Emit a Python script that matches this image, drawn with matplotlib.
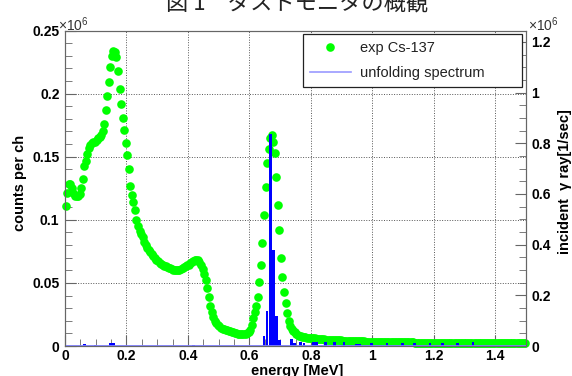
import numpy as np
import matplotlib
matplotlib.use('Agg')
import matplotlib.pyplot as plt
from matplotlib.lines import Line2D

plt.rcParams['font.family'] = ['Liberation Sans', 'DejaVu Sans']
plt.rcParams['mathtext.fontset'] = 'custom'
plt.rcParams['mathtext.rm'] = 'Liberation Sans'
plt.rcParams['mathtext.it'] = 'Liberation Sans:italic'

# exp Cs-137, counts per ch (x10^6), 5 keV channels starting at 2.5 keV
counts = [
    0.111, 0.121, 0.1285, 0.128, 0.1255, 0.121, 0.119, 0.1185, 0.119, 0.1205,
    0.125, 0.132, 0.1425, 0.1465, 0.1525, 0.157, 0.1595, 0.1605, 0.1615, 0.162,
    0.163, 0.1645, 0.1655, 0.1675, 0.170, 0.176, 0.187, 0.198, 0.209, 0.221,
    0.230, 0.234, 0.233, 0.229, 0.218, 0.204, 0.192, 0.181, 0.171, 0.161,
    0.151, 0.140, 0.127, 0.120, 0.114, 0.108, 0.100, 0.095, 0.091, 0.0885,
    0.086, 0.0825, 0.080, 0.078, 0.076, 0.0745, 0.073, 0.071, 0.0695, 0.068,
    0.067, 0.066, 0.065, 0.064, 0.0635, 0.063, 0.0625, 0.062, 0.0615, 0.061,
    0.0605, 0.060, 0.060, 0.060, 0.0605, 0.061, 0.062, 0.0625, 0.063, 0.064,
    0.0645, 0.0655, 0.0665, 0.0675, 0.068, 0.0685, 0.068, 0.0665, 0.064, 0.061,
    0.057, 0.052, 0.046, 0.039, 0.032, 0.027, 0.023, 0.020, 0.018, 0.0165,
    0.0155, 0.0145, 0.0138, 0.0132, 0.0128, 0.0124, 0.012, 0.0116, 0.0112, 0.0108,
    0.0104, 0.0101, 0.0099, 0.0098, 0.0097, 0.0097, 0.0098, 0.0099, 0.0101, 0.0108,
    0.013, 0.017, 0.022, 0.027, 0.032, 0.039, 0.051, 0.064, 0.082, 0.104,
    0.126, 0.145, 0.156, 0.1645, 0.1672, 0.162, 0.153, 0.134, 0.112, 0.092,
    0.070, 0.055, 0.043, 0.034, 0.026, 0.020, 0.016, 0.0135, 0.0122, 0.011,
    0.0098, 0.0088, 0.0082, 0.0078, 0.0074, 0.0071, 0.0068, 0.0066, 0.0064, 0.0063,
    0.0062, 0.0061, 0.0060, 0.0058, 0.0057, 0.0056, 0.0055, 0.0053, 0.0052, 0.0051,
    0.0050, 0.0049, 0.0048, 0.0047, 0.0047, 0.0046, 0.0045, 0.0045, 0.0044, 0.0044,
    0.0043, 0.0043, 0.0042, 0.0041, 0.0041, 0.0040, 0.0040, 0.0039, 0.0039, 0.0038,
    0.0037, 0.0037, 0.0036,
    0.0036, 0.0036, 0.0035, 0.0035, 0.0035, 0.0034, 0.0034, 0.0034, 0.0033, 0.0033,
    0.0033, 0.0033, 0.0032, 0.0032, 0.0032, 0.0032, 0.0031, 0.0031, 0.0031, 0.0031,
    0.0030, 0.0030, 0.0030, 0.0030, 0.0029, 0.0029, 0.0029, 0.0029, 0.0029, 0.0028,
    0.0028, 0.0028, 0.0028, 0.0028, 0.0027, 0.0027, 0.0027, 0.0027, 0.0027, 0.0026,
    0.0026, 0.0026, 0.0026, 0.0026, 0.0026, 0.0025, 0.0025, 0.0025, 0.0025, 0.0025,
    0.0025, 0.0024, 0.0024, 0.0024, 0.0024, 0.0024, 0.0024, 0.0024, 0.0023, 0.0023,
    0.0023, 0.0023, 0.0023, 0.0023, 0.0023, 0.0023, 0.0022, 0.0022, 0.0022, 0.0022,
    0.0022, 0.0022, 0.0022, 0.0022, 0.0022, 0.0022, 0.0021, 0.0021, 0.0021, 0.0021,
    0.0021, 0.0021, 0.0021, 0.0021, 0.0021, 0.0021, 0.0021, 0.0021, 0.0021, 0.0021,
    0.0021, 0.0021, 0.0021, 0.0020, 0.0020, 0.0020, 0.0020, 0.0020, 0.0020, 0.0020,
    0.0020, 0.0020, 0.0020, 0.0020, 0.0020, 0.0020, 0.0020,
]
energy = 0.0025 + 0.005 * np.arange(len(counts))

# unfolding spectrum, incident gamma ray [1/sec] (x10^6), bin lower edges [MeV]
unf_lo = [0.058, 0.093, 0.143, 0.153, 0.413,
          0.643, 0.653, 0.663, 0.673, 0.683, 0.693,
          0.733, 0.743, 0.763, 0.773, 0.803, 0.813, 0.843, 0.873, 0.903,
          0.943, 0.953, 0.993, 1.043, 1.093, 1.133, 1.183, 1.223, 1.273, 1.323]
unf_val = [0.006, 0.005, 0.011, 0.011, 0.005,
           0.040, 0.140, 0.835, 0.380, 0.120, 0.022,
           0.028, 0.012, 0.015, 0.010, 0.015, 0.015, 0.016, 0.016, 0.014,
           0.008, 0.008, 0.010, 0.010, 0.010, 0.010, 0.010, 0.010, 0.012, 0.015]

x_ticks = [0, 0.2, 0.4, 0.6, 0.8, 1.0, 1.2, 1.4]
x_labels = ["0", "0.2", "0.4", "0.6", "0.8", "1", "1.2", "1.4"]
yl_ticks = [0, 0.05, 0.1, 0.15, 0.2, 0.25]
yl_labels = ["0", "0.05", "0.1", "0.15", "0.2", "0.25"]
yr_ticks = [0, 0.2, 0.4, 0.6, 0.8, 1.0, 1.2]
yr_labels = ["0", "0.2", "0.4", "0.6", "0.8", "1", "1.2"]

W, H = 572, 376
fig = plt.figure(figsize=(W / 100, H / 100), dpi=100)
ax = fig.add_axes([65 / W, 1 - 346 / H, 461 / W, 315.5 / H])

axis_col = '#666666'
ax.plot(energy, counts, 'o', color='#00ff00', ms=6.2, mec='none',
        clip_on=False, zorder=3)
ax.set_xlim(0, 1.5)
ax.set_ylim(0, 0.25)
ax.set_xticks(x_ticks, x_labels)
ax.set_yticks(yl_ticks, yl_labels)
ax.set_xticks(np.arange(0, 1.5001, 0.05), minor=True)
ax.set_yticks(np.arange(0, 0.2501, 0.01), minor=True)
ax.tick_params(which='both', direction='in', top=False, right=False,
               color=axis_col, labelsize=10)
ax.tick_params(which='major', length=8)
ax.tick_params(which='minor', length=5)
ax.tick_params(axis='y', pad=4)
ax.tick_params(axis='x', pad=2.5)
for lab in ax.get_xticklabels() + ax.get_yticklabels():
    lab.set_fontweight('bold')
ax.grid(which='major', color='#555555', linestyle=(0, (1, 1.6)), linewidth=0.7)
for sp in ax.spines.values():
    sp.set_color(axis_col)

ax2 = ax.twinx()
ax2.set_ylim(0, 1.245)
ax2.bar(unf_lo, unf_val, width=0.009, align='edge', color='#0000ff', linewidth=0)
ax2.axhline(0, color='#8080ff', linewidth=1.3)
ax2.set_yticks(yr_ticks, yr_labels)
ax2.set_yticks(np.arange(0, 1.2451, 0.05), minor=True)
ax2.tick_params(which='both', direction='in', color=axis_col, labelsize=10, pad=4)
ax2.tick_params(which='major', length=8)
ax2.tick_params(which='minor', length=5)
for lab in ax2.get_yticklabels():
    lab.set_fontweight('bold')
for sp in ax2.spines.values():
    sp.set_color(axis_col)

handles = [Line2D([], [], ls='none', marker='o', color='#00ff00', ms=6.2, mec='none'),
           Line2D([], [], color='#9999ff', lw=1.2)]
leg = ax2.legend(handles, ['exp Cs-137', 'unfolding spectrum'],
                 loc='upper left', bbox_to_anchor=(0.5156, 0.8146, 0.4754, 0.1744),
                 mode='expand', fontsize=10.5, frameon=True, fancybox=False,
                 edgecolor='#222222', framealpha=1, borderpad=0.5,
                 labelspacing=0.75, handlelength=2.8, handletextpad=0.6,
                 borderaxespad=0)
leg.get_frame().set_linewidth(0.9)
for t in leg.get_texts():
    t.set_color('#222222')

fig.text(20 / W, 1 - 183 / H, 'counts per ch', rotation=90, ha='center',
         va='center', fontsize=10.5, fontweight='bold')
fig.text(297 / W, 1 - 371.5 / H, 'energy [MeV]', ha='center', va='center',
         fontsize=10.5, fontweight='bold')
fig.text(565 / W, 1 - 182 / H, 'incident  γ ray[1/sec]', rotation=90,
         ha='center', va='center', fontsize=10.5, fontweight='bold')
fig.text(58 / W, 1 - 31 / H, '×10$^{6}$', ha='left', va='baseline',
         fontsize=10, color='#333333')
fig.text(528 / W, 1 - 31 / H, '×10$^{6}$', ha='left', va='baseline',
         fontsize=10, color='#333333')
fig.text(297 / W, 1 - 9 / H, '図 1　ダストモニタの概観',
         family=['Noto Sans CJK JP', 'DejaVu Sans'], fontsize=16,
         ha='center', va='baseline', color='#222222')

fig.savefig('out.png', dpi=100)
